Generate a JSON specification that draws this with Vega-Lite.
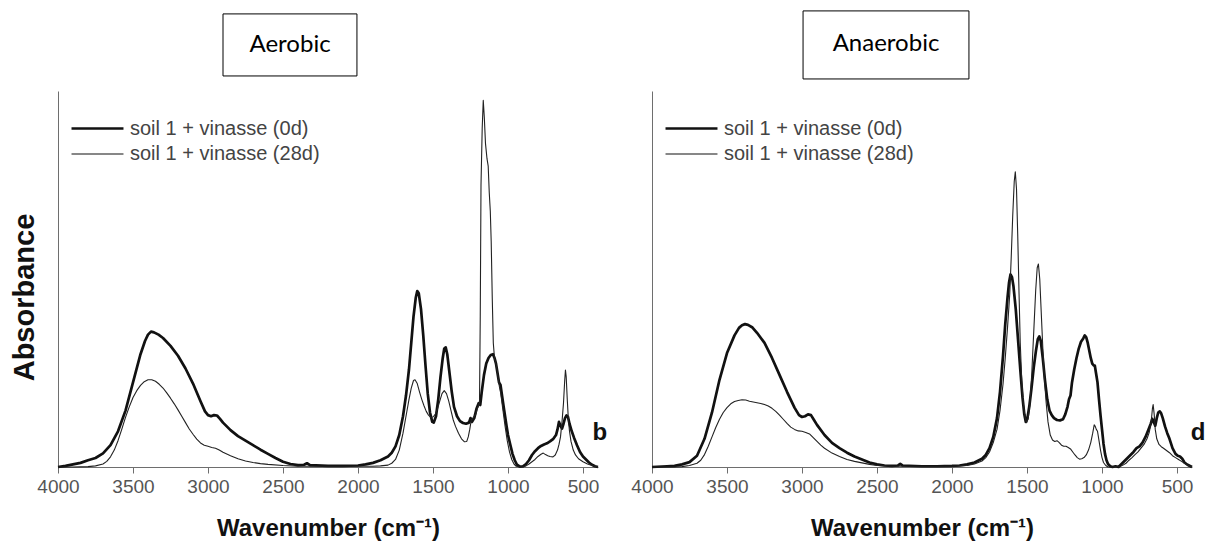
{
  "$schema": "https://vega.github.io/schema/vega-lite/v6.json",
  "padding": {"left": 10, "top": 10, "right": 4, "bottom": 2},
  "autosize": {"type": "pad"},
  "background": "white",
  "config": {
    "view": {"stroke": null},
    "font": "Liberation Sans",
    "axis": {"domainColor": "#6e6e6e", "tickColor": "#6e6e6e", "grid": false, "labelColor": "#555555", "labelFont": "Liberation Sans", "titleFont": "Liberation Sans", "titleFontWeight": "bold", "titleColor": "#111111"},
    "legend": {"orient": "none", "legendX": 29, "legendY": 27, "title": null, "symbolType": "M-3,0H3", "symbolSize": 300, "symbolStrokeColor": "#111111", "symbolFillColor": "transparent", "labelFontSize": 20, "labelLimit": 400, "labelColor": "#444444", "labelFont": "Liberation Sans", "labelOffset": 22, "rowPadding": 5}
  },
  "datasets": {
    "aer0": [{"w":4000,"a":0},{"w":3950,"a":0.003},{"w":3900,"a":0.007},{"w":3850,"a":0.011},{"w":3800,"a":0.018},{"w":3750,"a":0.024},{"w":3700,"a":0.036},{"w":3650,"a":0.058},{"w":3600,"a":0.095},{"w":3550,"a":0.15},{"w":3500,"a":0.225},{"w":3450,"a":0.3},{"w":3420,"a":0.335},{"w":3400,"a":0.352},{"w":3380,"a":0.36},{"w":3360,"a":0.358},{"w":3330,"a":0.352},{"w":3300,"a":0.343},{"w":3250,"a":0.322},{"w":3200,"a":0.296},{"w":3150,"a":0.262},{"w":3100,"a":0.222},{"w":3050,"a":0.175},{"w":3020,"a":0.148},{"w":3000,"a":0.138},{"w":2980,"a":0.135},{"w":2960,"a":0.138},{"w":2940,"a":0.137},{"w":2920,"a":0.128},{"w":2900,"a":0.118},{"w":2850,"a":0.098},{"w":2800,"a":0.082},{"w":2750,"a":0.07},{"w":2700,"a":0.058},{"w":2650,"a":0.046},{"w":2600,"a":0.035},{"w":2550,"a":0.024},{"w":2500,"a":0.014},{"w":2450,"a":0.008},{"w":2400,"a":0.005},{"w":2360,"a":0.006},{"w":2340,"a":0.01},{"w":2320,"a":0.005},{"w":2200,"a":0.003},{"w":2100,"a":0.003},{"w":2000,"a":0.004},{"w":1950,"a":0.007},{"w":1900,"a":0.011},{"w":1850,"a":0.018},{"w":1800,"a":0.028},{"w":1775,"a":0.038},{"w":1750,"a":0.055},{"w":1725,"a":0.085},{"w":1700,"a":0.135},{"w":1680,"a":0.19},{"w":1660,"a":0.26},{"w":1645,"a":0.33},{"w":1630,"a":0.4},{"w":1615,"a":0.45},{"w":1605,"a":0.468},{"w":1595,"a":0.462},{"w":1580,"a":0.42},{"w":1565,"a":0.35},{"w":1550,"a":0.27},{"w":1535,"a":0.195},{"w":1520,"a":0.145},{"w":1505,"a":0.12},{"w":1495,"a":0.118},{"w":1480,"a":0.135},{"w":1465,"a":0.18},{"w":1450,"a":0.24},{"w":1435,"a":0.29},{"w":1425,"a":0.315},{"w":1415,"a":0.318},{"w":1405,"a":0.3},{"w":1390,"a":0.25},{"w":1375,"a":0.2},{"w":1360,"a":0.16},{"w":1340,"a":0.135},{"w":1320,"a":0.122},{"w":1300,"a":0.117},{"w":1280,"a":0.115},{"w":1260,"a":0.118},{"w":1250,"a":0.13},{"w":1240,"a":0.12},{"w":1225,"a":0.13},{"w":1210,"a":0.155},{"w":1195,"a":0.17},{"w":1185,"a":0.165},{"w":1175,"a":0.2},{"w":1160,"a":0.245},{"w":1145,"a":0.275},{"w":1130,"a":0.29},{"w":1115,"a":0.298},{"w":1100,"a":0.3},{"w":1090,"a":0.29},{"w":1080,"a":0.275},{"w":1070,"a":0.25},{"w":1060,"a":0.225},{"w":1050,"a":0.218},{"w":1040,"a":0.19},{"w":1025,"a":0.15},{"w":1010,"a":0.11},{"w":1000,"a":0.085},{"w":985,"a":0.06},{"w":970,"a":0.035},{"w":955,"a":0.018},{"w":940,"a":0.006},{"w":920,"a":0.001},{"w":900,"a":0.002},{"w":880,"a":0.008},{"w":860,"a":0.018},{"w":840,"a":0.032},{"w":820,"a":0.042},{"w":800,"a":0.05},{"w":780,"a":0.056},{"w":760,"a":0.06},{"w":740,"a":0.063},{"w":720,"a":0.068},{"w":700,"a":0.074},{"w":680,"a":0.085},{"w":670,"a":0.1},{"w":660,"a":0.12},{"w":650,"a":0.11},{"w":640,"a":0.102},{"w":630,"a":0.115},{"w":620,"a":0.13},{"w":610,"a":0.137},{"w":600,"a":0.133},{"w":590,"a":0.115},{"w":575,"a":0.095},{"w":560,"a":0.078},{"w":540,"a":0.058},{"w":520,"a":0.04},{"w":500,"a":0.028},{"w":480,"a":0.02},{"w":460,"a":0.012},{"w":440,"a":0.006},{"w":420,"a":0.002},{"w":400,"a":0}],
    "aer28": [{"w":4000,"a":0},{"w":3900,"a":0},{"w":3800,"a":0.001},{"w":3750,"a":0.003},{"w":3700,"a":0.008},{"w":3675,"a":0.015},{"w":3650,"a":0.027},{"w":3625,"a":0.045},{"w":3600,"a":0.07},{"w":3575,"a":0.1},{"w":3550,"a":0.132},{"w":3525,"a":0.16},{"w":3500,"a":0.185},{"w":3475,"a":0.203},{"w":3450,"a":0.217},{"w":3425,"a":0.227},{"w":3400,"a":0.232},{"w":3375,"a":0.232},{"w":3350,"a":0.228},{"w":3325,"a":0.22},{"w":3300,"a":0.21},{"w":3275,"a":0.197},{"w":3250,"a":0.183},{"w":3225,"a":0.168},{"w":3200,"a":0.152},{"w":3175,"a":0.135},{"w":3150,"a":0.118},{"w":3125,"a":0.101},{"w":3100,"a":0.087},{"w":3075,"a":0.074},{"w":3050,"a":0.064},{"w":3025,"a":0.058},{"w":3000,"a":0.055},{"w":2975,"a":0.052},{"w":2950,"a":0.05},{"w":2925,"a":0.045},{"w":2900,"a":0.039},{"w":2850,"a":0.03},{"w":2800,"a":0.022},{"w":2750,"a":0.016},{"w":2700,"a":0.012},{"w":2650,"a":0.009},{"w":2600,"a":0.007},{"w":2500,"a":0.004},{"w":2400,"a":0.002},{"w":2200,"a":0.002},{"w":2000,"a":0.002},{"w":1900,"a":0.002},{"w":1850,"a":0.003},{"w":1800,"a":0.005},{"w":1775,"a":0.01},{"w":1750,"a":0.02},{"w":1725,"a":0.045},{"w":1700,"a":0.09},{"w":1680,"a":0.135},{"w":1660,"a":0.18},{"w":1645,"a":0.21},{"w":1630,"a":0.23},{"w":1620,"a":0.232},{"w":1605,"a":0.222},{"w":1590,"a":0.2},{"w":1575,"a":0.18},{"w":1560,"a":0.163},{"w":1545,"a":0.148},{"w":1530,"a":0.138},{"w":1515,"a":0.132},{"w":1500,"a":0.133},{"w":1485,"a":0.14},{"w":1470,"a":0.155},{"w":1455,"a":0.175},{"w":1440,"a":0.195},{"w":1425,"a":0.203},{"w":1410,"a":0.195},{"w":1395,"a":0.175},{"w":1380,"a":0.15},{"w":1365,"a":0.125},{"w":1350,"a":0.108},{"w":1330,"a":0.09},{"w":1310,"a":0.075},{"w":1290,"a":0.067},{"w":1275,"a":0.068},{"w":1265,"a":0.08},{"w":1255,"a":0.1},{"w":1245,"a":0.125},{"w":1235,"a":0.13},{"w":1225,"a":0.135},{"w":1215,"a":0.14},{"w":1205,"a":0.155},{"w":1195,"a":0.165},{"w":1190,"a":0.17},{"w":1185,"a":0.4},{"w":1180,"a":0.75},{"w":1172,"a":0.9},{"w":1165,"a":0.975},{"w":1158,"a":0.93},{"w":1150,"a":0.86},{"w":1140,"a":0.82},{"w":1132,"a":0.8},{"w":1125,"a":0.73},{"w":1118,"a":0.68},{"w":1112,"a":0.6},{"w":1105,"a":0.45},{"w":1098,"a":0.33},{"w":1090,"a":0.29},{"w":1078,"a":0.27},{"w":1068,"a":0.245},{"w":1058,"a":0.215},{"w":1048,"a":0.195},{"w":1035,"a":0.155},{"w":1020,"a":0.11},{"w":1005,"a":0.07},{"w":990,"a":0.04},{"w":975,"a":0.02},{"w":960,"a":0.008},{"w":945,"a":0.002},{"w":920,"a":0},{"w":900,"a":0},{"w":880,"a":0.003},{"w":860,"a":0.008},{"w":840,"a":0.014},{"w":820,"a":0.02},{"w":800,"a":0.028},{"w":780,"a":0.034},{"w":765,"a":0.037},{"w":750,"a":0.033},{"w":735,"a":0.03},{"w":720,"a":0.028},{"w":700,"a":0.027},{"w":685,"a":0.032},{"w":670,"a":0.045},{"w":660,"a":0.06},{"w":650,"a":0.08},{"w":640,"a":0.12},{"w":630,"a":0.17},{"w":622,"a":0.23},{"w":617,"a":0.258},{"w":612,"a":0.24},{"w":605,"a":0.18},{"w":598,"a":0.13},{"w":590,"a":0.095},{"w":580,"a":0.068},{"w":565,"a":0.045},{"w":550,"a":0.032},{"w":530,"a":0.022},{"w":500,"a":0.014},{"w":470,"a":0.008},{"w":440,"a":0.004},{"w":400,"a":0}],
    "ana0": [{"w":4000,"a":0},{"w":3900,"a":0.002},{"w":3850,"a":0.003},{"w":3800,"a":0.007},{"w":3750,"a":0.013},{"w":3700,"a":0.03},{"w":3650,"a":0.075},{"w":3600,"a":0.145},{"w":3550,"a":0.232},{"w":3500,"a":0.303},{"w":3450,"a":0.35},{"w":3420,"a":0.37},{"w":3400,"a":0.377},{"w":3380,"a":0.38},{"w":3360,"a":0.378},{"w":3330,"a":0.371},{"w":3300,"a":0.357},{"w":3250,"a":0.33},{"w":3200,"a":0.29},{"w":3150,"a":0.245},{"w":3100,"a":0.2},{"w":3050,"a":0.158},{"w":3020,"a":0.138},{"w":3000,"a":0.133},{"w":2980,"a":0.135},{"w":2960,"a":0.14},{"w":2940,"a":0.138},{"w":2920,"a":0.125},{"w":2900,"a":0.112},{"w":2850,"a":0.085},{"w":2800,"a":0.064},{"w":2750,"a":0.05},{"w":2700,"a":0.038},{"w":2650,"a":0.028},{"w":2600,"a":0.02},{"w":2550,"a":0.012},{"w":2500,"a":0.007},{"w":2450,"a":0.004},{"w":2400,"a":0.003},{"w":2360,"a":0.004},{"w":2345,"a":0.008},{"w":2330,"a":0.004},{"w":2200,"a":0.002},{"w":2100,"a":0.002},{"w":2000,"a":0.003},{"w":1950,"a":0.004},{"w":1900,"a":0.007},{"w":1850,"a":0.012},{"w":1800,"a":0.022},{"w":1775,"a":0.032},{"w":1750,"a":0.05},{"w":1725,"a":0.08},{"w":1700,"a":0.13},{"w":1680,"a":0.2},{"w":1660,"a":0.295},{"w":1645,"a":0.38},{"w":1630,"a":0.45},{"w":1620,"a":0.49},{"w":1610,"a":0.512},{"w":1600,"a":0.505},{"w":1590,"a":0.48},{"w":1575,"a":0.42},{"w":1560,"a":0.34},{"w":1545,"a":0.26},{"w":1530,"a":0.185},{"w":1518,"a":0.14},{"w":1508,"a":0.12},{"w":1498,"a":0.128},{"w":1485,"a":0.16},{"w":1470,"a":0.21},{"w":1455,"a":0.265},{"w":1440,"a":0.31},{"w":1428,"a":0.34},{"w":1418,"a":0.347},{"w":1408,"a":0.335},{"w":1395,"a":0.29},{"w":1380,"a":0.23},{"w":1365,"a":0.18},{"w":1350,"a":0.15},{"w":1335,"a":0.138},{"w":1320,"a":0.13},{"w":1300,"a":0.125},{"w":1280,"a":0.124},{"w":1260,"a":0.127},{"w":1245,"a":0.14},{"w":1230,"a":0.16},{"w":1220,"a":0.18},{"w":1210,"a":0.19},{"w":1200,"a":0.225},{"w":1185,"a":0.26},{"w":1170,"a":0.29},{"w":1155,"a":0.315},{"w":1140,"a":0.333},{"w":1125,"a":0.342},{"w":1115,"a":0.35},{"w":1105,"a":0.345},{"w":1095,"a":0.33},{"w":1085,"a":0.31},{"w":1075,"a":0.29},{"w":1065,"a":0.275},{"w":1055,"a":0.27},{"w":1048,"a":0.27},{"w":1040,"a":0.25},{"w":1030,"a":0.225},{"w":1020,"a":0.18},{"w":1010,"a":0.138},{"w":1000,"a":0.1},{"w":990,"a":0.062},{"w":980,"a":0.035},{"w":970,"a":0.018},{"w":960,"a":0.008},{"w":945,"a":0.002},{"w":930,"a":0},{"w":910,"a":0.002},{"w":890,"a":0},{"w":870,"a":0.008},{"w":850,"a":0.016},{"w":830,"a":0.024},{"w":810,"a":0.032},{"w":790,"a":0.04},{"w":770,"a":0.05},{"w":750,"a":0.055},{"w":730,"a":0.065},{"w":710,"a":0.08},{"w":690,"a":0.1},{"w":675,"a":0.115},{"w":665,"a":0.128},{"w":655,"a":0.12},{"w":645,"a":0.11},{"w":635,"a":0.13},{"w":625,"a":0.145},{"w":615,"a":0.148},{"w":605,"a":0.142},{"w":595,"a":0.13},{"w":580,"a":0.108},{"w":565,"a":0.09},{"w":550,"a":0.075},{"w":530,"a":0.05},{"w":510,"a":0.035},{"w":495,"a":0.03},{"w":480,"a":0.028},{"w":465,"a":0.022},{"w":450,"a":0.012},{"w":430,"a":0.006},{"w":400,"a":0}],
    "ana28": [{"w":4000,"a":0},{"w":3850,"a":0},{"w":3800,"a":0.001},{"w":3750,"a":0.004},{"w":3700,"a":0.01},{"w":3675,"a":0.018},{"w":3650,"a":0.033},{"w":3625,"a":0.055},{"w":3600,"a":0.08},{"w":3575,"a":0.105},{"w":3550,"a":0.127},{"w":3525,"a":0.145},{"w":3500,"a":0.158},{"w":3475,"a":0.168},{"w":3450,"a":0.174},{"w":3425,"a":0.177},{"w":3400,"a":0.179},{"w":3375,"a":0.178},{"w":3350,"a":0.175},{"w":3325,"a":0.173},{"w":3300,"a":0.171},{"w":3275,"a":0.169},{"w":3250,"a":0.166},{"w":3225,"a":0.162},{"w":3200,"a":0.156},{"w":3175,"a":0.148},{"w":3150,"a":0.138},{"w":3125,"a":0.127},{"w":3100,"a":0.116},{"w":3075,"a":0.106},{"w":3050,"a":0.1},{"w":3025,"a":0.096},{"w":3000,"a":0.095},{"w":2975,"a":0.092},{"w":2950,"a":0.088},{"w":2925,"a":0.078},{"w":2900,"a":0.068},{"w":2875,"a":0.058},{"w":2850,"a":0.05},{"w":2800,"a":0.037},{"w":2750,"a":0.028},{"w":2700,"a":0.02},{"w":2650,"a":0.015},{"w":2600,"a":0.011},{"w":2550,"a":0.007},{"w":2500,"a":0.004},{"w":2400,"a":0.002},{"w":2200,"a":0.002},{"w":2000,"a":0.002},{"w":1900,"a":0.004},{"w":1850,"a":0.008},{"w":1800,"a":0.016},{"w":1775,"a":0.025},{"w":1750,"a":0.04},{"w":1725,"a":0.065},{"w":1700,"a":0.1},{"w":1680,"a":0.15},{"w":1660,"a":0.22},{"w":1645,"a":0.29},{"w":1630,"a":0.37},{"w":1615,"a":0.46},{"w":1605,"a":0.56},{"w":1595,"a":0.67},{"w":1585,"a":0.76},{"w":1578,"a":0.785},{"w":1570,"a":0.74},{"w":1562,"a":0.62},{"w":1553,"a":0.46},{"w":1545,"a":0.33},{"w":1535,"a":0.23},{"w":1525,"a":0.17},{"w":1512,"a":0.13},{"w":1502,"a":0.118},{"w":1492,"a":0.13},{"w":1480,"a":0.17},{"w":1468,"a":0.25},{"w":1455,"a":0.36},{"w":1442,"a":0.47},{"w":1432,"a":0.53},{"w":1424,"a":0.54},{"w":1415,"a":0.5},{"w":1405,"a":0.41},{"w":1395,"a":0.32},{"w":1385,"a":0.24},{"w":1372,"a":0.17},{"w":1360,"a":0.12},{"w":1345,"a":0.085},{"w":1330,"a":0.072},{"w":1315,"a":0.068},{"w":1300,"a":0.07},{"w":1285,"a":0.065},{"w":1270,"a":0.058},{"w":1255,"a":0.055},{"w":1240,"a":0.055},{"w":1225,"a":0.052},{"w":1210,"a":0.048},{"w":1195,"a":0.04},{"w":1180,"a":0.032},{"w":1165,"a":0.025},{"w":1150,"a":0.021},{"w":1135,"a":0.022},{"w":1120,"a":0.025},{"w":1105,"a":0.032},{"w":1090,"a":0.045},{"w":1075,"a":0.065},{"w":1062,"a":0.09},{"w":1052,"a":0.112},{"w":1045,"a":0.108},{"w":1038,"a":0.1},{"w":1030,"a":0.095},{"w":1020,"a":0.07},{"w":1010,"a":0.045},{"w":1000,"a":0.025},{"w":990,"a":0.012},{"w":975,"a":0.004},{"w":960,"a":0},{"w":930,"a":0},{"w":900,"a":0.002},{"w":880,"a":0.001},{"w":860,"a":0.005},{"w":840,"a":0.01},{"w":820,"a":0.018},{"w":800,"a":0.025},{"w":780,"a":0.033},{"w":760,"a":0.04},{"w":740,"a":0.05},{"w":720,"a":0.06},{"w":700,"a":0.075},{"w":685,"a":0.092},{"w":672,"a":0.12},{"w":664,"a":0.155},{"w":659,"a":0.166},{"w":652,"a":0.14},{"w":645,"a":0.1},{"w":635,"a":0.075},{"w":620,"a":0.06},{"w":605,"a":0.054},{"w":590,"a":0.05},{"w":570,"a":0.044},{"w":550,"a":0.038},{"w":530,"a":0.03},{"w":510,"a":0.025},{"w":490,"a":0.02},{"w":470,"a":0.015},{"w":450,"a":0.01},{"w":430,"a":0.005},{"w":400,"a":0}]
  },
  "spacing": 54,
  "bounds": "flush",
  "resolve": {"scale": {"strokeWidth": "independent"}, "legend": {"strokeWidth": "independent"}},
  "hconcat": [
    {
      "width": 540,
      "height": 376,
      "layer": [
        {
          "data": {"name": "aer0"},
          "mark": {"type": "line", "color": "#111111", "strokeJoin": "round"},
          "encoding": {
            "x": {"field": "w", "type": "quantitative", "scale": {"domain": [400, 4000], "reverse": true, "nice": false, "zero": false},
                  "axis": {"title": "Wavenumber (cm⁻¹)", "values": [4000,3750,3500,3250,3000,2750,2500,2250,2000,1750,1500,1250,1000,750,500], "format": "d", "labelExpr": "datum.value % 500 == 0 ? datum.label : ''", "tickSize": 6, "labelFontSize": 19, "labelPadding": 4, "labelOverlap": false, "labelFlush": false, "titleFontSize": 24, "titlePadding": 20}},
            "y": {"field": "a", "type": "quantitative", "scale": {"domain": [0, 1], "nice": false, "zero": true},
                  "axis": {"title": "Absorbance", "ticks": false, "labels": false, "titleFontSize": 29, "titlePadding": 19, "titleY": 206}},
            "strokeWidth": {"datum": "0d", "type": "ordinal", "scale": {"domain": ["0d", "28d"], "range": [2.7, 1.1]},
                            "legend": {"labelExpr": "'soil 1 + vinasse (' + datum.label + ')'"}}
          }
        },
        {
          "data": {"name": "aer28"},
          "mark": {"type": "line", "color": "#222222", "strokeJoin": "round"},
          "encoding": {
            "x": {"field": "w", "type": "quantitative", "title": "Wavenumber (cm⁻¹)"},
            "y": {"field": "a", "type": "quantitative", "title": "Absorbance", "scale": {"domain": [0, 1], "nice": false}},
            "strokeWidth": {"datum": "28d", "type": "ordinal"}
          }
        },
        {
          "data": {"values": [{}]},
          "mark": {"type": "rect", "fill": "white", "stroke": "black", "strokeWidth": 1},
          "encoding": {
            "x": {"datum": 2900, "type": "quantitative"},
            "x2": {"datum": 2007},
            "y": {"datum": 1.04, "type": "quantitative"},
            "y2": {"datum": 1.205}
          }
        },
        {
          "data": {"values": [{}]},
          "mark": {"type": "text", "text": "Aerobic", "font": "Lato", "fontSize": 24, "color": "black", "align": "center", "baseline": "middle"},
          "encoding": {
            "x": {"datum": 2453, "type": "quantitative"},
            "y": {"datum": 1.122, "type": "quantitative"}
          }
        },
        {
          "data": {"values": [{}]},
          "mark": {"type": "text", "text": "b", "fontSize": 24, "fontWeight": "bold", "color": "#111111", "align": "center", "baseline": "middle"},
          "encoding": {
            "x": {"datum": 387, "type": "quantitative"},
            "y": {"datum": 0.09, "type": "quantitative"}
          }
        }
      ]
    },
    {
      "width": 540,
      "height": 376,
      "layer": [
        {
          "data": {"name": "ana0"},
          "mark": {"type": "line", "color": "#111111", "strokeJoin": "round"},
          "encoding": {
            "x": {"field": "w", "type": "quantitative", "scale": {"domain": [400, 4000], "reverse": true, "nice": false, "zero": false},
                  "axis": {"title": "Wavenumber (cm⁻¹)", "values": [4000,3750,3500,3250,3000,2750,2500,2250,2000,1750,1500,1250,1000,750,500], "format": "d", "labelExpr": "datum.value % 500 == 0 ? datum.label : ''", "tickSize": 6, "labelFontSize": 19, "labelPadding": 4, "labelOverlap": false, "labelFlush": false, "titleFontSize": 24, "titlePadding": 20}},
            "y": {"field": "a", "type": "quantitative", "scale": {"domain": [0, 1], "nice": false, "zero": true},
                  "axis": {"title": null, "ticks": false, "labels": false}},
            "strokeWidth": {"datum": "0d", "type": "ordinal", "scale": {"domain": ["0d", "28d"], "range": [2.7, 1.1]},
                            "legend": {"labelExpr": "'soil 1 + vinasse (' + datum.label + ')'"}}
          }
        },
        {
          "data": {"name": "ana28"},
          "mark": {"type": "line", "color": "#222222", "strokeJoin": "round"},
          "encoding": {
            "x": {"field": "w", "type": "quantitative", "title": "Wavenumber (cm⁻¹)"},
            "y": {"field": "a", "type": "quantitative", "title": null, "scale": {"domain": [0, 1], "nice": false}},
            "strokeWidth": {"datum": "28d", "type": "ordinal"}
          }
        },
        {
          "data": {"values": [{}]},
          "mark": {"type": "rect", "fill": "white", "stroke": "black", "strokeWidth": 1},
          "encoding": {
            "x": {"datum": 2993, "type": "quantitative"},
            "x2": {"datum": 1887},
            "y": {"datum": 1.032, "type": "quantitative"},
            "y2": {"datum": 1.213}
          }
        },
        {
          "data": {"values": [{}]},
          "mark": {"type": "text", "text": "Anaerobic", "font": "Lato", "fontSize": 24, "color": "black", "align": "center", "baseline": "middle"},
          "encoding": {
            "x": {"datum": 2440, "type": "quantitative"},
            "y": {"datum": 1.125, "type": "quantitative"}
          }
        },
        {
          "data": {"values": [{}]},
          "mark": {"type": "text", "text": "d", "fontSize": 24, "fontWeight": "bold", "color": "#111111", "align": "center", "baseline": "middle"},
          "encoding": {
            "x": {"datum": 360, "type": "quantitative"},
            "y": {"datum": 0.09, "type": "quantitative"}
          }
        }
      ]
    }
  ]
}
